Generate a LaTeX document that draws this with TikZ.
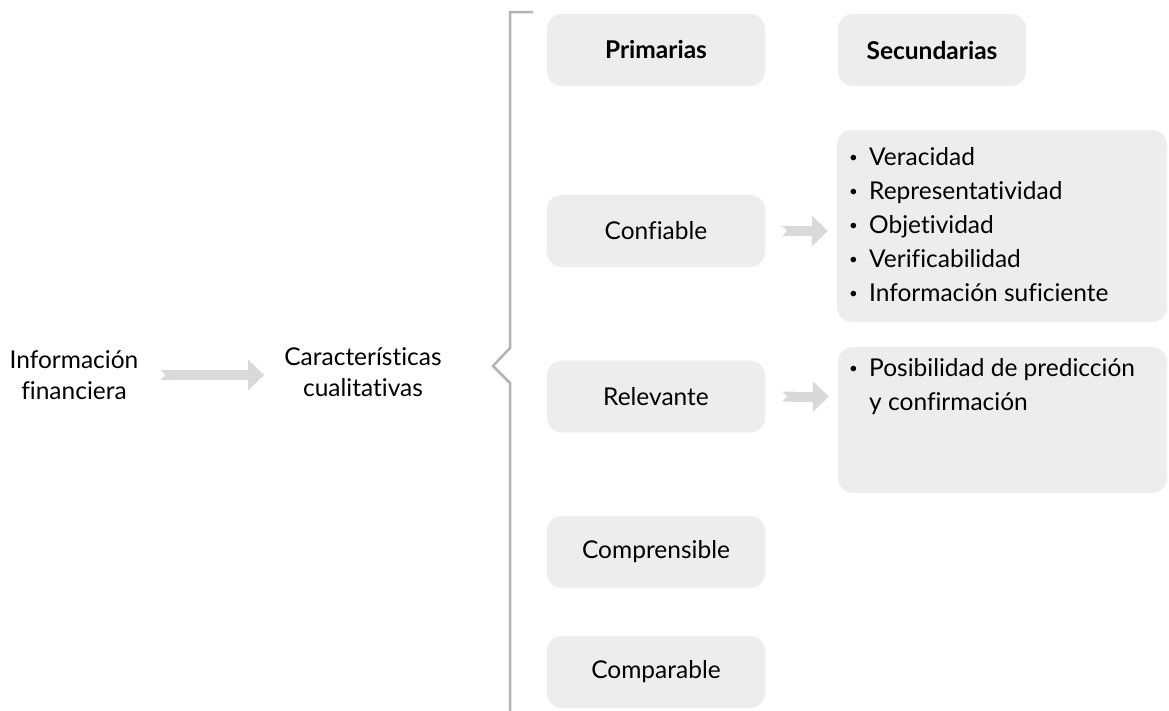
\documentclass[tikz,border=0pt]{standalone}
\usepackage{fontspec}
\setmainfont{Lato}[Ligatures={NoCommon}]
\usepackage{tikz}
\usetikzlibrary{arrows.meta}
\definecolor{boxgray}{HTML}{EDEDED}
\definecolor{arrowgray}{HTML}{D9D9D9}
\definecolor{bracegray}{HTML}{B3B3B3}
\newcommand{\punto}{\raisebox{3pt}{\fontsize{15}{15}\selectfont•}}

\begin{document}
\begin{tikzpicture}[x=1pt,y=-1pt]
    \tikzstyle{lbl}=[font=\fontsize{24.5}{31}\selectfont, align=center, inner sep=0pt];
    \tikzstyle{caja}=[lbl, fill=boxgray, rounded corners=15pt, minimum width=218pt, minimum height=72pt];
    \tikzstyle{lista}=[fill=boxgray, rounded corners=15pt, minimum width=330pt, inner sep=0pt];
    \tikzstyle{flecha}=[draw=arrowgray, fill=arrowgray, line width=10pt, {Triangle Cap[reversed]}-{Triangle[length=16pt,width=30pt]}];
    \renewcommand{\arraystretch}{1.1}
    \useasboundingbox (0,0) rectangle (1169,710);
    % left side
    \node[lbl] (info) at (74,375) {Información\\financiera};
    \node[lbl] (carac) at (363,372) {Características\\cualitativas};
    \draw[flecha, shorten <=22pt, shorten >=20pt] (info.east) -- (info.east -| carac.west);
    % bracket
    \draw[bracegray, line width=2.5pt] (533,12) -- (510,12) -- (510,348) -- (493,366) -- (510,383) -- (510,712);
    % primarias
    \node[caja, font=\fontsize{24.5}{31}\selectfont\bfseries] (prim) at (656,50) {Primarias};
    \node[caja, minimum width=188pt, font=\fontsize{24.5}{31}\selectfont\bfseries] (secu) at (932,50) {Secundarias};
    \node[caja] (conf) at (656,231) {Confiable};
    \node[caja] (relev) at (656,396.5) {Relevante};
    \node[caja] (compr) at (656,552) {Comprensible};
    \node[caja] (compa) at (656,672) {Comparable};
    % secundarias
    \node[lista, minimum height=192pt] (sec1) at (1002,226) {};
    \node[lista, minimum width=329pt, minimum height=146pt] (sec2) at (1002.5,420) {};
    \node[lbl, anchor=base west, align=left] (txt1) at (849,165) {%
      \begin{tabular}[t]{@{}p{20pt}@{}l@{}}
        \punto & Veracidad\\
        \punto & Representatividad\\
        \punto & Objetividad\\
        \punto & Verificabilidad\\
        \punto & Información suficiente
      \end{tabular}};
    \node[lbl, anchor=base west, align=left] (txt2) at (849,376) {%
      \begin{tabular}[t]{@{}p{20pt}@{}l@{}}
        \punto & Posibilidad de predicción\\
          & y confirmación
      \end{tabular}};
    \draw[flecha, shorten <=17pt, shorten >=9pt] (conf.east) -- (conf.east -| sec1.west);
    \draw[flecha, shorten <=17pt, shorten >=9pt] (relev.east) -- (relev.east -| sec2.west);
  \end{tikzpicture}
\end{document}
